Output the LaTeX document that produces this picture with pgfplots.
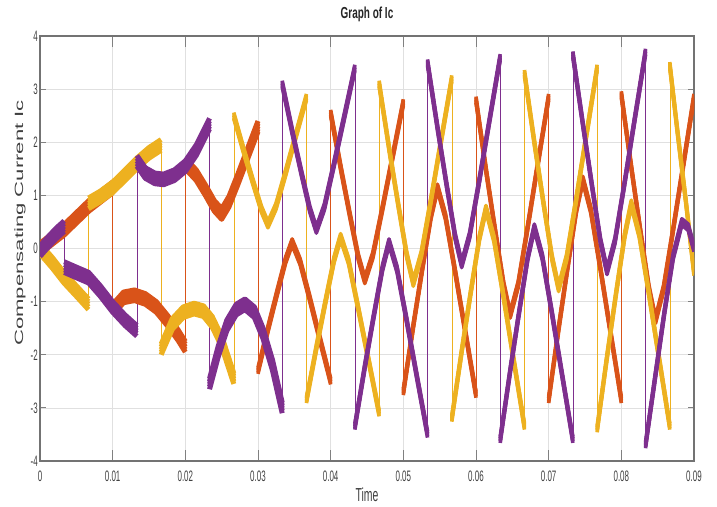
\documentclass[border=0pt]{standalone}
\usepackage{fontspec}
\setmainfont{Liberation Sans}
\usepackage{graphicx}
\usepackage{pgfplots}
\usepackage{pgfplotstable}
\pgfplotsset{compat=1.18}
\definecolor{mor}{HTML}{D95319}
\definecolor{myl}{HTML}{EDB120}
\definecolor{mpu}{HTML}{7E2F8E}
\definecolor{lab}{HTML}{404040}
\newcommand{\tl}[1]{\scalebox{1}[1.9]{\fontsize{8}{9}\selectfont #1}}

% ---------------- orange ----------------
\pgfplotstableread{
t v
0 0
0.0033 0.35
0.0067 0.8
0.01 1.15
nan nan
0.01 -1.15
0.0115 -0.92
0.013 -0.88
0.0145 -0.95
0.016 -1.1
0.0175 -1.35
0.019 -1.63
0.02 -1.85
nan nan
0.02 1.6
0.0215 1.38
0.02275 1.1
0.024 0.8
0.025 0.65
0.026 0.88
0.02725 1.31
0.0285 1.76
0.03 2.3
}\oe
\pgfplotstableread{
t v
0.03 -2.3
0.0314 -1.5
0.0326 -0.85
0.0338 -0.22
0.0347 0.12
0.0358 -0.25
0.0371 -0.93
0.0384 -1.64
0.04 -2.5
nan nan
0.04 2.55
0.0414 1.51
0.0426 0.66
0.0438 -0.16
0.0447 -0.6
0.0458 -0.13
0.0471 0.74
0.0484 1.64
0.05 2.75
nan nan
0.05 -2.7
0.0514 -1.43
0.0526 -0.39
0.0538 0.61
0.0547 1.15
0.0558 0.6
0.0571 -0.41
0.0584 -1.46
0.06 -2.75
nan nan
0.06 2.8
0.0614 1.46
0.0626 0.37
0.0638 -0.68
0.0647 -1.25
0.0658 -0.68
0.0671 0.39
0.0684 1.5
0.07 2.85
nan nan
0.07 -2.85
0.0714 -1.48
0.0726 -0.36
0.0738 0.72
0.0747 1.3
0.0758 0.72
0.0771 -0.36
0.0784 -1.48
0.08 -2.85
nan nan
0.08 2.9
0.0814 1.5
0.0826 0.35
0.0838 -0.75
0.0847 -1.35
0.0858 -0.76
0.0871 0.33
0.0884 1.46
0.09 2.85
}\ol
\pgfplotstableread{
t v
0.01 1.15
0.01 -1.15
nan nan
0.02 -1.85
0.02 1.6
nan nan
0.03 2.3
0.03 -2.3
nan nan
0.04 -2.5
0.04 2.55
nan nan
0.05 2.75
0.05 -2.7
nan nan
0.06 -2.75
0.06 2.8
nan nan
0.07 2.85
0.07 -2.85
nan nan
0.08 -2.85
0.08 2.9
}\oj

% ---------------- yellow ----------------
\pgfplotstableread{
t v
0 0
0.0017 -0.27
0.0033 -0.55
0.005 -0.8
0.00667 -1.05
nan nan
0.00667 0.85
0.0083 0.98
0.01 1.15
0.0117 1.38
0.0133 1.6
0.015 1.8
0.01667 1.95
nan nan
0.01667 -1.9
0.0182 -1.42
0.0197 -1.2
0.0212 -1.13
0.0225 -1.18
0.0237 -1.38
0.025 -1.75
0.02667 -2.45
}\ye
\pgfplotstableread{
t v
0.02667 2.5
0.02807 1.82
0.02927 1.27
0.03047 0.74
0.03137 0.45
0.03247 0.79
0.03377 1.41
0.03507 2.06
0.03667 2.85
nan nan
0.03667 -2.85
0.03807 -1.84
0.03927 -1.01
0.04047 -0.21
0.04137 0.22
0.04247 -0.24
0.04377 -1.11
0.04507 -2.0
0.04667 -3.1
nan nan
0.04667 3.1
0.04807 1.86
0.04927 0.85
0.05047 -0.12
0.05137 -0.65
0.05247 -0.11
0.05377 0.89
0.05507 1.93
0.05667 3.2
nan nan
0.05667 -3.2
0.05807 -1.9
0.05927 -0.83
0.06047 0.2
0.06137 0.75
0.06247 0.18
0.06377 -0.89
0.06507 -2.0
0.06667 -3.35
nan nan
0.06667 3.3
0.06807 1.96
0.06927 0.87
0.07047 -0.18
0.07137 -0.75
0.07247 -0.17
0.07377 0.91
0.07507 2.03
0.07667 3.4
nan nan
0.07667 -3.4
0.07807 -2.0
0.07927 -0.85
0.08047 0.25
0.08137 0.85
0.08247 0.26
0.08377 -0.83
0.08507 -1.96
0.08667 -3.35
nan nan
0.08667 3.45
0.08777 2.15
0.08887 0.9
0.09 -0.45
}\yl
\pgfplotstableread{
t v
0.00667 -1.05
0.00667 0.85
nan nan
0.01667 1.95
0.01667 -1.9
nan nan
0.02667 -2.45
0.02667 2.5
nan nan
0.03667 2.85
0.03667 -2.85
nan nan
0.04667 -3.1
0.04667 3.1
nan nan
0.05667 3.2
0.05667 -3.2
nan nan
0.06667 -3.35
0.06667 3.3
nan nan
0.07667 3.4
0.07667 -3.4
nan nan
0.08667 -3.35
0.08667 3.45
}\yj

% ---------------- purple ----------------
\pgfplotstableread{
t v
0 -0.05
0.0011 0.12
0.0022 0.28
0.00333 0.42
nan nan
0.00333 -0.35
0.005 -0.45
0.0067 -0.55
0.0083 -0.8
0.01 -1.1
0.0117 -1.35
0.01333 -1.55
nan nan
0.01333 1.65
0.0145 1.42
0.0158 1.32
0.017 1.3
0.0185 1.38
0.02 1.55
0.0215 1.85
0.02333 2.35
nan nan
0.02333 -2.55
0.0245 -1.95
0.0257 -1.45
0.027 -1.15
0.0282 -1.05
0.0295 -1.2
0.0307 -1.6
0.032 -2.2
0.03333 -3.0
}\pe
\pgfplotstableread{
t v
0.03333 3.1
0.03473 2.19
0.03593 1.45
0.03713 0.74
0.03803 0.35
0.03913 0.78
0.04043 1.57
0.04173 2.39
0.04333 3.4
nan nan
0.04333 -3.35
0.04473 -2.2
0.04593 -1.27
0.04713 -0.37
0.04803 0.12
0.04913 -0.39
0.05043 -1.33
0.05173 -2.31
0.05333 -3.5
nan nan
0.05333 3.5
0.05473 2.25
0.05593 1.22
0.05713 0.23
0.05803 -0.3
0.05913 0.25
0.06043 1.26
0.06173 2.31
0.06333 3.6
nan nan
0.06333 -3.6
0.06473 -2.28
0.06593 -1.2
0.06713 -0.16
0.06803 0.4
0.06913 -0.16
0.07043 -1.2
0.07173 -2.28
0.07333 -3.6
nan nan
0.07333 3.65
0.07473 2.32
0.07593 1.21
0.07713 0.14
0.07803 -0.43
0.07913 0.15
0.08043 1.22
0.08173 2.34
0.08333 3.7
nan nan
0.08333 -3.7
0.08473 -2.35
0.08593 -1.2
0.08713 -0.15
0.08833 0.5
0.0892 0.4
0.09 0.0
}\pl
\pgfplotstableread{
t v
0.00333 0.42
0.00333 -0.35
nan nan
0.01333 -1.55
0.01333 1.65
nan nan
0.02333 2.35
0.02333 -2.55
nan nan
0.03333 -3.0
0.03333 3.1
nan nan
0.04333 3.4
0.04333 -3.35
nan nan
0.05333 -3.5
0.05333 3.5
nan nan
0.06333 3.6
0.06333 -3.6
nan nan
0.07333 -3.6
0.07333 3.65
nan nan
0.08333 3.7
0.08333 -3.7
}\pj

\begin{document}
\begin{tikzpicture}
\path[use as bounding box] (-40bp,-46bp) rectangle (677bp,461bp);
\begin{axis}[
  scale only axis, width=654bp, height=425bp,
  xmin=0, xmax=0.09, ymin=-4, ymax=4,
  xtick={0,0.01,0.02,0.03,0.04,0.05,0.06,0.07,0.08,0.09},
  xticklabels={\tl{0},\tl{0.01},\tl{0.02},\tl{0.03},\tl{0.04},\tl{0.05},\tl{0.06},\tl{0.07},\tl{0.08},\tl{0.09}},
  ytick={-4,-3,-2,-1,0,1,2,3,4},
  yticklabels={\tl{-4},\tl{-3},\tl{-2},\tl{-1},\tl{0},\tl{1},\tl{2},\tl{3},\tl{4}},
  xticklabel style={anchor=north, inner sep=0pt, yshift=-10bp, text=lab},
  yticklabel style={anchor=east, inner sep=0pt, xshift=-2bp, text=lab},
  tick align=inside,
  major tick length=6bp,
  xtick style={/pgfplots/major tick length=11bp},
  major tick style={black!50, line width=0.9bp},
  grid=major,
  grid style={black!12, line width=0.6bp},
  axis line style={black!55, line width=1.3bp},
  unbounded coords=jump,
  scaled x ticks=false,
  title={\scalebox{1}[1.6]{\fontsize{10}{12}\selectfont\bfseries Graph of Ic}},
  title style={at={(axis description cs:0.5,1)}, anchor=base, inner sep=0pt, yshift=12bp, text=black!85},
  xlabel={\scalebox{1}[1.8]{\fontsize{10.5}{12}\selectfont Time}},
  xlabel style={at={(axis description cs:0.5,0)}, anchor=north, inner sep=0pt, yshift=-27bp, text=lab},
  ylabel={\scalebox{1.85}[1]{\fontsize{12}{14}\selectfont Compensating Current Ic}},
  ylabel style={at={(axis description cs:0,0.56)}, anchor=center, inner sep=0pt, yshift=20bp, text=lab},
  every axis plot/.append style={mark=none, line cap=butt, line join=round},
]
% thin switching lines
\addplot[mor, line width=0.6bp] table[x=t,y=v] {\oj};
\addplot[myl, line width=0.6bp] table[x=t,y=v] {\yj};
\addplot[mpu, line width=0.6bp] table[x=t,y=v] {\pj};
% orange
\pgfplotsinvokeforeach{-0.1,-0.05,0,0.05,0.1}{
  \addplot[mor, line width=5bp] table[x=t, y expr=\thisrow{v}+(#1)] {\oe};
}
\pgfplotsinvokeforeach{-0.06,-0.03,0,0.03,0.06}{
  \addplot[mor, line width=3.6bp] table[x=t, y expr=\thisrow{v}+(#1)] {\ol};
}
% yellow
\pgfplotsinvokeforeach{-0.1,-0.05,0,0.05,0.1}{
  \addplot[myl, line width=5bp] table[x=t, y expr=\thisrow{v}+(#1)] {\ye};
}
\pgfplotsinvokeforeach{-0.06,-0.03,0,0.03,0.06}{
  \addplot[myl, line width=3.6bp] table[x=t, y expr=\thisrow{v}+(#1)] {\yl};
}
% purple
\pgfplotsinvokeforeach{-0.1,-0.05,0,0.05,0.1}{
  \addplot[mpu, line width=5bp] table[x=t, y expr=\thisrow{v}+(#1)] {\pe};
}
\pgfplotsinvokeforeach{-0.06,-0.03,0,0.03,0.06}{
  \addplot[mpu, line width=3.6bp] table[x=t, y expr=\thisrow{v}+(#1)] {\pl};
}
\end{axis}
\end{tikzpicture}
\end{document}
